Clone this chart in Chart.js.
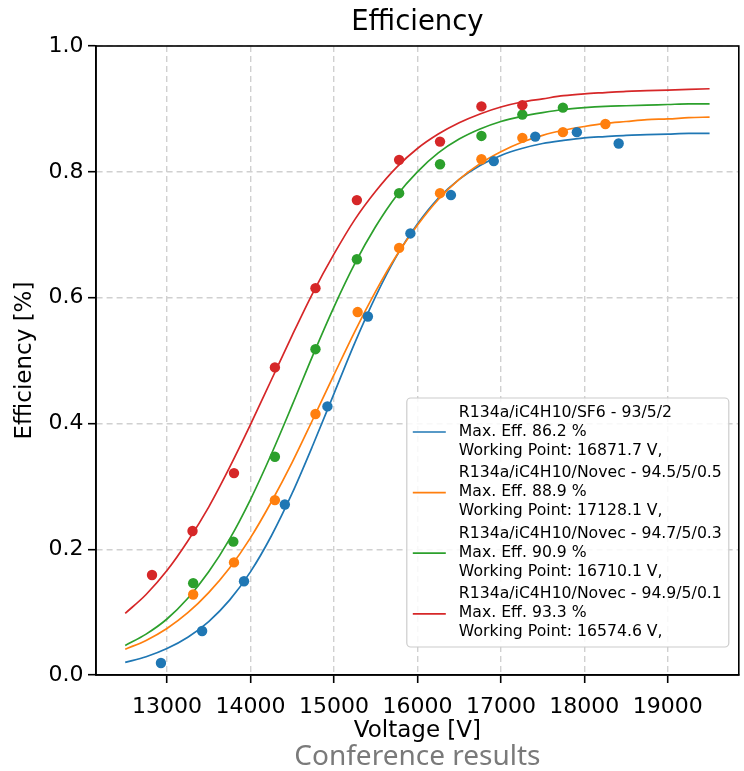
<!DOCTYPE html>
<html>
<head>
<meta charset="utf-8">
<script src="https://cdn.jsdelivr.net/npm/chart.js@4/dist/chart.umd.min.js"></script>
<style>
  html, body { margin: 0; padding: 0; background: #ffffff; }
  #wrap { width: 744px; height: 771px; }
</style>
</head>
<body>
<div id="wrap"><canvas id="c" width="744" height="771"></canvas></div>
<script>
// ---- tick labels ----
const voltageTicks = [13000, 14000, 15000, 16000, 17000, 18000, 19000];
const efficiencyTicks = [0.0, 0.2, 0.4, 0.6, 0.8, 1.0];

// ---- measured points ----
const sf6Voltage = [12928, 13421, 13923, 14412, 14922, 15407, 15916, 16402, 16915, 17412, 17910, 18411];
const sf6Eff     = [0.019, 0.070, 0.149, 0.271, 0.427, 0.570, 0.702, 0.763, 0.817, 0.856, 0.863, 0.845];

const novec05Voltage = [13314, 13803, 14293, 14779, 15284, 15781, 16271, 16767, 17257, 17743, 18252];
const novec05Eff     = [0.128, 0.179, 0.278, 0.415, 0.577, 0.679, 0.766, 0.820, 0.854, 0.863, 0.876];

const novec03Voltage = [13314, 13795, 14293, 14779, 15275, 15781, 16271, 16767, 17257, 17743];
const novec03Eff     = [0.146, 0.212, 0.347, 0.518, 0.661, 0.766, 0.812, 0.857, 0.891, 0.902];

const novec01Voltage = [12821, 13306, 13803, 14293, 14779, 15275, 15781, 16271, 16767, 17257];
const novec01Eff     = [0.159, 0.229, 0.321, 0.489, 0.615, 0.755, 0.819, 0.848, 0.904, 0.906];

// ---- fitted curves ----
const fitVoltage = [12500, 12750, 13000, 13250, 13500, 13750, 14000, 14250, 14500, 14750,
                    15000, 15250, 15500, 15750, 16000, 16250, 16500, 16750, 17000, 17250,
                    17500, 17750, 18000, 18250, 18500, 18750, 19000, 19250, 19500];
const sf6Fit     = [0.020, 0.029, 0.042, 0.060, 0.085, 0.119, 0.164, 0.221, 0.289, 0.366,
                    0.447, 0.528, 0.602, 0.666, 0.717, 0.758, 0.788, 0.810, 0.826, 0.837,
                    0.845, 0.850, 0.854, 0.856, 0.858, 0.859, 0.860, 0.861, 0.861];
const novec05Fit = [0.041, 0.055, 0.074, 0.099, 0.131, 0.170, 0.218, 0.275, 0.338, 0.407,
                    0.477, 0.546, 0.610, 0.667, 0.715, 0.756, 0.788, 0.813, 0.832, 0.847,
                    0.858, 0.866, 0.872, 0.877, 0.880, 0.883, 0.884, 0.886, 0.887];
const novec03Fit = [0.047, 0.065, 0.089, 0.122, 0.164, 0.216, 0.279, 0.351, 0.429, 0.509,
                    0.585, 0.654, 0.713, 0.762, 0.800, 0.830, 0.852, 0.868, 0.880, 0.888,
                    0.894, 0.899, 0.902, 0.904, 0.905, 0.906, 0.907, 0.908, 0.908];
const novec01Fit = [0.098, 0.128, 0.166, 0.213, 0.267, 0.330, 0.398, 0.469, 0.540, 0.608,
                    0.669, 0.724, 0.769, 0.807, 0.837, 0.860, 0.878, 0.892, 0.903, 0.911,
                    0.916, 0.921, 0.924, 0.926, 0.928, 0.929, 0.930, 0.931, 0.932];

// ---- legend labels ----
const sf6Label     = ["R134a/iC4H10/SF6 - 93/5/2", "Max. Eff. 86.2 %", "Working Point: 16871.7 V,"];
const novec05Label = ["R134a/iC4H10/Novec - 94.5/5/0.5", "Max. Eff. 88.9 %", "Working Point: 17128.1 V,"];
const novec03Label = ["R134a/iC4H10/Novec - 94.7/5/0.3", "Max. Eff. 90.9 %", "Working Point: 16710.1 V,"];
const novec01Label = ["R134a/iC4H10/Novec - 94.9/5/0.1", "Max. Eff. 93.3 %", "Working Point: 16574.6 V,"];

const titleText = "Efficiency";
const xTitle = "Voltage [V]";
const yTitle = "Efficiency [%]";
const captionText = "Conference results";

const COLORS = ['#1f77b4', '#ff7f0e', '#2ca02c', '#d62728'];
const FONT = "'DejaVu Sans', sans-serif";

function pts(xs, ys) { return xs.map((x, i) => ({ x: x, y: ys[i] })); }

const series = [
  { pv: sf6Voltage, pe: sf6Eff, fit: sf6Fit, label: sf6Label },
  { pv: novec05Voltage, pe: novec05Eff, fit: novec05Fit, label: novec05Label },
  { pv: novec03Voltage, pe: novec03Eff, fit: novec03Fit, label: novec03Label },
  { pv: novec01Voltage, pe: novec01Eff, fit: novec01Fit, label: novec01Label }
];

const datasets = [];
series.forEach((s, i) => {
  datasets.push({
    type: 'line',
    label: s.label.join('\n'),
    legendLines: s.label,
    isFit: true,
    data: pts(fitVoltage, s.fit),
    borderColor: COLORS[i],
    backgroundColor: COLORS[i],
    borderWidth: 1.7,
    pointRadius: 0,
    cubicInterpolationMode: 'monotone',
    fill: false,
    order: 10 - i
  });
});
series.forEach((s, i) => {
  datasets.push({
    type: 'scatter',
    label: 'points ' + i,
    data: pts(s.pv, s.pe),
    backgroundColor: COLORS[i],
    borderColor: COLORS[i],
    borderWidth: 0,
    pointRadius: 5.2,
    showLine: false,
    order: 5 - i
  });
});

const framePlugin = {
  id: 'frame',
  afterDatasetsDraw(chart) {
    const ctx = chart.ctx;
    const a = chart.chartArea;
    ctx.save();
    ctx.strokeStyle = '#000';
    ctx.lineWidth = 1.6;
    ctx.strokeRect(a.left, a.top, a.right - a.left, a.bottom - a.top);
    ctx.restore();

    // legend box (bottom right inside plot area)
    const fits = chart.data.datasets.filter(d => d.isFit);
    const bw = 322, bh = 249;
    const bx = a.right - 10 - bw, by = a.bottom - 28 - bh;
    ctx.save();
    ctx.beginPath();
    const r = 4;
    ctx.moveTo(bx + r, by);
    ctx.lineTo(bx + bw - r, by);
    ctx.arcTo(bx + bw, by, bx + bw, by + r, r);
    ctx.lineTo(bx + bw, by + bh - r);
    ctx.arcTo(bx + bw, by + bh, bx + bw - r, by + bh, r);
    ctx.lineTo(bx + r, by + bh);
    ctx.arcTo(bx, by + bh, bx, by + bh - r, r);
    ctx.lineTo(bx, by + r);
    ctx.arcTo(bx, by, bx + r, by, r);
    ctx.closePath();
    ctx.fillStyle = 'rgba(255,255,255,0.85)';
    ctx.fill();
    ctx.strokeStyle = '#cccccc';
    ctx.lineWidth = 1.2;
    ctx.stroke();

    ctx.font = "15.7px " + FONT;
    ctx.textBaseline = 'middle';
    ctx.textAlign = 'left';
    fits.forEach((d, i) => {
      const gy = by + 14.5 + i * 60.6;
      ctx.strokeStyle = d.borderColor;
      ctx.lineWidth = 1.7;
      ctx.beginPath();
      ctx.moveTo(bx + 6, gy + 19.5);
      ctx.lineTo(bx + 39, gy + 19.5);
      ctx.stroke();
      ctx.fillStyle = '#000';
      d.legendLines.forEach((t, j) => {
        ctx.fillText(t, bx + 52, gy + j * 19);
      });
    });
    ctx.restore();
  }
};

Chart.defaults.font.family = FONT;
Chart.defaults.color = '#000';

new Chart(document.getElementById('c'), {
  data: { datasets: datasets },
  options: {
    responsive: false,
    animation: false,
    layout: { padding: { left: 0, right: 2, top: 0, bottom: 0 } },
    plugins: {
      legend: { display: false },
      tooltip: { enabled: false },
      title: {
        display: true,
        text: titleText,
        fullSize: false,
        color: '#000',
        font: { family: FONT, size: 27.5, weight: 'normal', lineHeight: 1.2 },
        padding: { top: 6, bottom: 7 }
      },
      subtitle: {
        display: true,
        text: captionText,
        position: 'bottom',
        fullSize: false,
        color: '#7a7a7a',
        font: { family: "'Noto Sans', sans-serif", size: 28, weight: 'normal', lineHeight: 1.0 },
        padding: { top: 0, bottom: 0 }
      }
    },
    scales: {
      x: {
        type: 'linear',
        position: 'bottom',
        min: 12150,
        max: 19850,
        afterBuildTicks(scale) { scale.ticks = voltageTicks.map(v => ({ value: v })); },
        afterFit(scale) { scale.height = 68; },
        ticks: {
          font: { family: FONT, size: 22 },
          color: '#000',
          padding: 11,
          maxRotation: 0,
          autoSkip: false,
          callback: (v) => String(v)
        },
        grid: {
          color: '#d0d0d0',
          lineWidth: 1.4,
          tickColor: '#000',
          tickLength: 8,
          tickWidth: 1.6,
          tickBorderDash: []
        },
        border: { display: true, color: '#000', width: 1.6, dash: [6, 4] },
        title: {
          display: true,
          text: xTitle,
          color: '#000',
          font: { family: FONT, size: 23, lineHeight: 1.0 },
          padding: { top: 0, bottom: 0 }
        }
      },
      y: {
        type: 'linear',
        min: 0,
        max: 1,
        afterBuildTicks(scale) { scale.ticks = efficiencyTicks.map(v => ({ value: v })); },
        afterFit(scale) { scale.width = 96; },
        ticks: {
          font: { family: FONT, size: 22 },
          color: '#000',
          padding: 4.5,
          callback: (v) => Number(v).toFixed(1)
        },
        grid: {
          color: '#d0d0d0',
          lineWidth: 1.4,
          tickColor: '#000',
          tickLength: 8,
          tickWidth: 1.6,
          tickBorderDash: []
        },
        border: { display: true, color: '#000', width: 1.6, dash: [6, 4] },
        title: {
          display: true,
          text: yTitle,
          color: '#000',
          font: { family: FONT, size: 23, lineHeight: 1.2 },
          padding: { top: 11, bottom: 0 }
        }
      }
    }
  },
  plugins: [framePlugin]
});
</script>
</body>
</html>
